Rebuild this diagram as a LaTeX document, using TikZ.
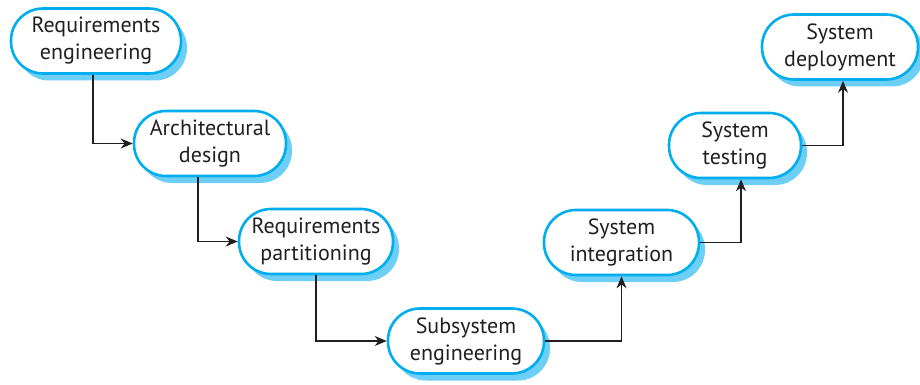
\documentclass[tikz,border=0pt]{standalone}
\usepackage{fontspec}
\setmainfont{PT Sans}
\usepackage{tikz}
\usetikzlibrary{arrows.meta,shadows}
\definecolor{stageblue}{RGB}{0,174,239}
\definecolor{shadowblue}{RGB}{109,207,246}
\definecolor{inkgray}{RGB}{35,31,32}

\begin{document}
\begin{tikzpicture}[x=1pt, y=-1pt,
    stage/.style={draw=stageblue, line width=2.6pt, fill=white, rounded corners=32pt,
      align=center, inner sep=0pt, minimum height=65pt, text=inkgray,
      font=\fontsize{22}{27}\selectfont,
      drop shadow={shadow xshift=6pt, shadow yshift=-7pt, fill=shadowblue, opacity=1}},
    flow/.style={draw=inkgray, line width=1.3pt, -{Stealth[length=12pt, width=10pt]}}]
    \useasboundingbox (0,0) rectangle (920,385);

    % Going down: specification and design
    \node[stage, minimum width=170pt] (reqeng) at (96,41) {Requirements\\engineering};
    \node[stage, minimum width=152pt] (archdes) at (210,143.5) {Architectural\\design};
    \node[stage, minimum width=154pt] (reqpart) at (316,241.5) {Requirements\\partitioning};
    \node[stage, minimum width=156pt] (subeng) at (466,341) {Subsystem\\engineering};

    % Going up: integration and deployment
    \node[stage, minimum width=155pt] (sysint) at (621.5,242.5) {System\\integration};
    \node[stage, minimum width=132pt] (systest) at (735,145.5) {System\\testing};
    \node[stage, minimum width=156pt] (sysdep) at (840,47) {System\\deployment};

    % Flow between stages
    \draw[flow] ([xshift=-3pt]reqeng.south) |- (archdes);
    \draw[flow] ([xshift=-12pt]archdes.south) |- (reqpart);
    \draw[flow] (reqpart) |- (subeng);
    \draw[flow] (subeng) -| (sysint);
    \draw[flow] (sysint) -| ([xshift=6pt]systest.south);
    \draw[flow] (systest) -| ([xshift=3pt]sysdep.south);
  \end{tikzpicture}
\end{document}
